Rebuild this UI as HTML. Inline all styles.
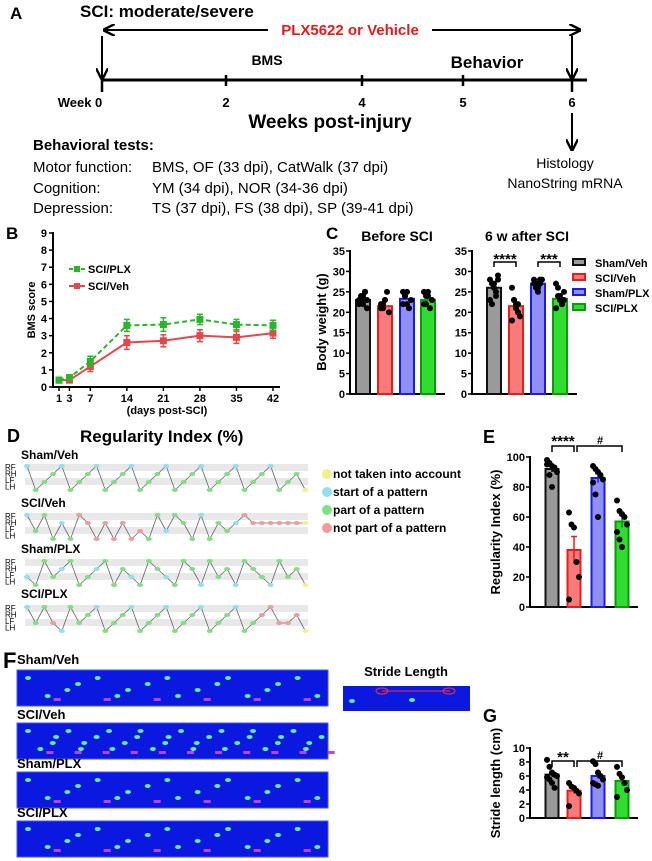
<!DOCTYPE html>
<html><head><meta charset="utf-8"><style>
html,body{margin:0;padding:0;background:#fff}
svg{display:block;font-family:"Liberation Sans",Arial,sans-serif}
</style></head><body>
<svg id="fig" width="652" height="861" viewBox="0 0 652 861" xmlns="http://www.w3.org/2000/svg">
<defs>
<marker id="ah" viewBox="0 0 10 10" refX="9" refY="5" markerWidth="6" markerHeight="6" orient="auto-start-reverse"><path d="M0,0 L10,5 L0,10" fill="none" stroke="#000" stroke-width="2"/></marker>
</defs>
<!-- Panel A -->
<g>
<text x="10" y="19" font-size="17" font-weight="bold">A</text>
<text x="80" y="17" font-size="17" font-weight="bold">SCI: moderate/severe</text>
<line x1="104" y1="30" x2="580" y2="30" stroke="#000" stroke-width="2" marker-start="url(#ah)" marker-end="url(#ah)"/>
<rect x="268" y="21" width="164" height="17" fill="#fff"/>
<text x="350" y="35" font-size="15" font-weight="bold" fill="#e41a1c" text-anchor="middle">PLX5622 or Vehicle</text>
<line x1="102" y1="36" x2="102" y2="79" stroke="#000" stroke-width="2" marker-end="url(#ah)"/>
<line x1="572" y1="36" x2="572" y2="79" stroke="#000" stroke-width="2" marker-end="url(#ah)"/>
<text x="267" y="65" font-size="14" font-weight="bold" text-anchor="middle">BMS</text>
<text x="487" y="68" font-size="17" font-weight="bold" text-anchor="middle">Behavior</text>
<line x1="102" y1="80" x2="587" y2="80" stroke="#000" stroke-width="3"/>
<g stroke="#000" stroke-width="2.5">
<line x1="102" y1="80" x2="102" y2="92"/><line x1="226" y1="75" x2="226" y2="86"/><line x1="362" y1="75" x2="362" y2="86"/><line x1="463" y1="75" x2="463" y2="86"/><line x1="572" y1="80" x2="572" y2="92"/>
</g>
<g font-size="13" font-weight="bold" text-anchor="middle">
<text x="80" y="107">Week 0</text>
<text x="226" y="107">2</text><text x="362" y="107">4</text><text x="463" y="107">5</text><text x="572" y="107">6</text>
</g>
<text x="330" y="128" font-size="19" font-weight="bold" text-anchor="middle">Weeks post-injury</text>
<line x1="572" y1="113" x2="572" y2="150" stroke="#000" stroke-width="2" marker-end="url(#ah)"/>
<text x="565" y="168" font-size="14" text-anchor="middle">Histology</text>
<text x="565" y="188" font-size="14" text-anchor="middle">NanoString mRNA</text>
<text x="33" y="150" font-size="15" font-weight="bold">Behavioral tests:</text>
<g font-size="15">
<text x="33" y="172">Motor function:</text><text x="152" y="172">BMS, OF (33 dpi), CatWalk (37 dpi)</text>
<text x="33" y="193">Cognition:</text><text x="152" y="193">YM (34 dpi), NOR (34-36 dpi)</text>
<text x="33" y="213">Depression:</text><text x="152" y="213">TS (37 dpi), FS (38 dpi), SP (39-41 dpi)</text>
</g>
</g>
<g id="gB"></g>
<g id="gC"></g>
<g id="gD"></g>
<g id="gE"></g>
<g id="gF"></g>
<g id="gG"></g>
</svg>
<script>
// Panel B data
const bmsDays=[1,3,7,14,21,28,35,42];
const bmsPLX=[0.4,0.55,1.5,3.6,3.65,3.95,3.65,3.6];
const bmsPLXErr=[0.15,0.15,0.3,0.35,0.4,0.3,0.3,0.3];
const bmsVeh=[0.4,0.4,1.2,2.6,2.7,3.0,2.9,3.15];
const bmsVehErr=[0.1,0.1,0.3,0.4,0.35,0.35,0.35,0.3];
const bmsYTicks=[0,1,2,3,4,5,6,7,8,9];
const bmsXTicks=[1,3,7,14,21,28,35,42];
// Panel C data
const groups=["Sham/Veh","SCI/Veh","Sham/PLX","SCI/PLX"];
const weightBefore=[23,21.5,23.3,23];
const weightAfter=[26,21.5,27,23.3];
const weightBeforePts=[[22,23,24,25,21,23,24,22,25,23],[21,22,23,25,20,22,21,23],[22,24,25,21,23,25,24,22],[22,24,25,21,23,25,22,24]];
const weightAfterPts=[[28,27,26,25,28,23,22,27,24,29],[26,23,22,20,19,18,23,21,22],[28,27,26,27,28,27,26,25,28],[27,24,23,22,25,21,26,24,22,23]];
const weightTicks=[0,5,10,15,20,25,30,35];
// Panel E data
const riMeans=[92,38,86,57];
const riErr=[2,9,3,4];
const riPts=[[98,96,94,92,90,95,88,80,93],[63,55,53,30,20,5],[94,92,90,88,85,83,75,60],[71,64,62,60,55,50,45,40]];
const riTicks=[0,20,40,60,80,100];
// Panel G data
const slMeans=[6.2,3.9,6.0,5.3];
const slErr=[0.3,0.45,0.35,0.5];
const slPts=[[8.3,7.3,6.5,6.2,6.0,5.8,5.5,5.0,4.3],[5.0,4.5,4.3,3.9,3.5,1.7],[8.1,7.7,6.5,6.0,5.5,5.0,4.8,4.6],[7.3,6.3,5.8,5.0,4.0,3.0]];
const slTicks=[0,2,4,6,8,10];

const NS="http://www.w3.org/2000/svg";
function mk(parent,tag,attrs,text){const e=document.createElementNS(NS,tag);for(const k in attrs)e.setAttribute(k,attrs[k]);if(text!==undefined)e.textContent=text;parent.appendChild(e);return e;}
const fillC=["#9a9a9a","#f77b7b","#8f8ff5","#2fdc2f"];
const edgeC=["#111","#e51d1d","#1a1aee","#0a9a0a"];

// ---- Panel B ----
(function(){
const g=document.getElementById('gB');
const x=d=>59+(d-1)*(273-59)/41, y=v=>387-v*(387-233)/9;
mk(g,'text',{x:6,y:239,'font-size':17,'font-weight':'bold'},'B');
mk(g,'line',{x1:53,y1:232,x2:53,y2:388,stroke:'#000','stroke-width':2});
mk(g,'line',{x1:52,y1:387,x2:280,y2:387,stroke:'#000','stroke-width':2});
bmsYTicks.forEach(t=>{mk(g,'line',{x1:49,y1:y(t),x2:53,y2:y(t),stroke:'#000','stroke-width':1.5});mk(g,'text',{x:47,y:y(t)+4,'font-size':11,'font-weight':'bold','text-anchor':'end'},t);});
bmsXTicks.forEach(t=>{mk(g,'line',{x1:x(t),y1:387,x2:x(t),y2:391,stroke:'#000','stroke-width':1.5});mk(g,'text',{x:x(t),y:402,'font-size':11,'font-weight':'bold','text-anchor':'middle'},t);});
mk(g,'text',{x:167,y:414,'font-size':11,'font-weight':'bold','text-anchor':'middle'},'(days post-SCI)');
mk(g,'text',{x:0,y:0,'font-size':11,'font-weight':'bold','text-anchor':'middle',transform:'translate(35,310) rotate(-90)'},'BMS score');
function series(vals,errs,col,dash,name){
 const s=mk(g,'g',{});
 
 
 mk(s,'polyline',{points:bmsDays.map((d,i)=>x(d)+','+y(vals[i])).join(' '),fill:'none',stroke:col,'stroke-width':2,'stroke-dasharray':dash});
 bmsDays.forEach((d,i)=>{mk(s,'line',{x1:x(d),y1:y(vals[i]-errs[i]),x2:x(d),y2:y(vals[i]+errs[i]),stroke:col,'stroke-width':1.5});
 [vals[i]-errs[i],vals[i]+errs[i]].forEach(v=>mk(s,'line',{x1:x(d)-3,y1:y(v),x2:x(d)+3,y2:y(v),stroke:col,'stroke-width':1.5}));
 const p=mk(s,'rect',{x:x(d)-3.5,y:y(vals[i])-3.5,width:7,height:7,fill:col});
 
 });
}
series(bmsVeh,bmsVehErr,'#e8474a','none','sci-veh-series');
series(bmsPLX,bmsPLXErr,'#2ab52a','5,3','sci-plx-series');
const l1=mk(g,'g',{});
mk(l1,'line',{x1:69,y1:269,x2:85,y2:269,stroke:'#2ab52a','stroke-width':2,'stroke-dasharray':'4,2'});mk(l1,'rect',{x:74,y:266,width:6,height:6,fill:'#2ab52a'});
mk(l1,'text',{x:88,y:273,'font-size':11,'font-weight':'bold'},'SCI/PLX');
const l2=mk(g,'g',{});
mk(l2,'line',{x1:69,y1:286,x2:85,y2:286,stroke:'#e8474a','stroke-width':2});mk(l2,'rect',{x:74,y:283,width:6,height:6,fill:'#e8474a'});
mk(l2,'text',{x:88,y:290,'font-size':11,'font-weight':'bold'},'SCI/Veh');
})();

function barPanel(g,opt){
 const y=v=>opt.y0-v*(opt.y0-opt.yTop)/opt.max;
 mk(g,'line',{x1:opt.ax,y1:opt.yTop-1,x2:opt.ax,y2:opt.y0+1,stroke:'#000','stroke-width':2});
 mk(g,'line',{x1:opt.ax-1,y1:opt.y0,x2:opt.axEnd,y2:opt.y0,stroke:'#000','stroke-width':2});
 opt.ticks.forEach(t=>{mk(g,'line',{x1:opt.ax-4,y1:y(t),x2:opt.ax,y2:y(t),stroke:'#000','stroke-width':1.5});mk(g,'text',{x:opt.ax-5,y:y(t)+4,'font-size':opt.fs,'font-weight':'bold','text-anchor':'end'},t);});
 opt.means.forEach((m,i)=>{
  const cx=opt.cx[i];
  const b=mk(g,'rect',{x:cx-opt.bw/2,y:y(m),width:opt.bw,height:opt.y0-y(m),fill:fillC[i],stroke:edgeC[i],'stroke-width':2});
  
  
  if(opt.err){const e=opt.err[i];mk(g,'line',{x1:cx,y1:y(m-e),x2:cx,y2:y(m+e),stroke:edgeC[i],'stroke-width':1.5});mk(g,'line',{x1:cx-3,y1:y(m+e),x2:cx+3,y2:y(m+e),stroke:edgeC[i],'stroke-width':1.5});}
  opt.pts[i].forEach((v,j)=>{const dx=((j%5)-2)*opt.jit;const c=mk(g,'circle',{cx:cx+dx,cy:y(v),r:opt.r,fill:'#000'});
   
   });
 });
 return y;
}
// ---- Panel C ----
(function(){
const g=document.getElementById('gC');
mk(g,'text',{x:326,y:239,'font-size':17,'font-weight':'bold'},'C');
mk(g,'text',{x:397,y:241,'font-size':14,'font-weight':'bold','text-anchor':'middle'},'Before SCI');
mk(g,'text',{x:527,y:241,'font-size':14,'font-weight':'bold','text-anchor':'middle'},'6 w after SCI');
mk(g,'text',{x:0,y:0,'font-size':13,'font-weight':'bold','text-anchor':'middle',transform:'translate(326,322) rotate(-90)'},'Body weight (g)');
barPanel(g,{ax:350,axEnd:445,y0:394,yTop:251,max:35,ticks:weightTicks,fs:11,means:weightBefore,pts:weightBeforePts,cx:[363,385,407,428],bw:14,r:3,jit:2});
barPanel(g,{ax:472,axEnd:577,y0:394,yTop:251,max:35,ticks:weightTicks,fs:11,means:weightAfter,pts:weightAfterPts,cx:[494,516,538,560],bw:14,r:3,jit:2});
mk(g,'path',{d:'M494,267 V262 H516 V267 M538,267 V262 H560 V267',fill:'none',stroke:'#000','stroke-width':1.5});
mk(g,'text',{x:505,y:264,'font-size':15,'font-weight':'bold','text-anchor':'middle'},'****');
mk(g,'text',{x:549,y:264,'font-size':15,'font-weight':'bold','text-anchor':'middle'},'***');
groups.forEach((n,i)=>{const lg=mk(g,'g',{});
 mk(lg,'rect',{x:573,y:259+i*15,width:12,height:6,fill:fillC[i],stroke:edgeC[i],'stroke-width':2});
 mk(lg,'text',{x:595,y:267+i*15,'font-size':11,'font-weight':'bold'},n);});
})();
// ---- Panel D ----
(function(){
const g=document.getElementById('gD');
mk(g,'text',{x:7,y:442,'font-size':18,'font-weight':'bold'},'D');
mk(g,'text',{x:80,y:442,'font-size':17,'font-weight':'bold'},'Regularity Index (%)');
const rows=[{l:'Sham/Veh',ly:459,t:464},{l:'SCI/Veh',ly:507,t:513},{l:'Sham/PLX',ly:553,t:559},{l:'SCI/PLX',ly:598,t:605}];
const pat=[[0,3,2,1,0,3,2,1,0,3,2,1,0,3,2,1,0,3,2,1,0,3,2,1,0,3,2,1,0,3,2,1,3],[0,2,0,3,1,3,0,1,3,1,3,1,3,2,3,0,2,0,1,3,0,3,1,2,1,0,1,1,1,1,1,1,1],[2,3,0,2,1,0,3,2,1,0,3,1,2,3,0,1,2,3,0,1,3,0,2,1,3,0,1,2,3,0,2,1,3],[0,2,0,2,3,0,2,1,0,3,2,1,0,3,2,1,0,3,2,1,0,3,2,1,0,3,2,1,0,2,2,1,3]];
const cols=['#7fe07f','#8fe0f0','#f39a9a','#f3f08a'];
rows.forEach((r,k)=>{
 mk(g,'text',{x:21,y:r.ly,'font-size':12,'font-weight':'bold'},r.l);
 mk(g,'rect',{x:25,y:r.t,width:283,height:7,fill:'#e8e8e8'});mk(g,'rect',{x:25,y:r.t+14,width:283,height:7,fill:'#e8e8e8'});
 ['RF','RH','LF','LH'].forEach((s,i)=>mk(g,'text',{x:5,y:r.t+6+i*6.5,'font-size':8},s));
 const p=pat[k];const pts=p.map((v,i)=>[27+i*8.7,r.t+2+v*8]);
 mk(g,'polyline',{points:pts.map(q=>q.join(',')).join(' '),fill:'none',stroke:'#666','stroke-width':0.8});
 pts.forEach((q,i)=>{let c=cols[0];if(i%4===0)c=cols[1];if(k===1&&(i>5&&i<14||i>24))c=cols[2];if(k===3&&(i===3||i>26))c=cols[2];if(i===pts.length-1)c=cols[3];
  mk(g,'ellipse',{cx:q[0],cy:q[1],rx:3,ry:2,fill:c});});
});
const lt=['not taken into account','start of a pattern','part of a pattern','not part of a pattern'];
const lc=['#f3f08a','#8fe0f0','#7fe07f','#f39a9a'];
lt.forEach((t,i)=>{const e=mk(g,'g',{});
 mk(e,'circle',{cx:327,cy:474+i*18,r:5,fill:lc[i]});mk(e,'text',{x:333,y:478+i*18,'font-size':12,'font-weight':'bold'},t);});
})();
// ---- Panel E ----
(function(){
const g=document.getElementById('gE');
mk(g,'text',{x:483,y:443,'font-size':18,'font-weight':'bold'},'E');
mk(g,'text',{x:0,y:0,'font-size':13,'font-weight':'bold','text-anchor':'middle',transform:'translate(500,532) rotate(-90)'},'Regularity Index (%)');
barPanel(g,{ax:530,axEnd:638,y0:607,yTop:457,max:100,ticks:riTicks,fs:11,means:riMeans,err:riErr,pts:riPts,cx:[552,574,598,622],bw:13,r:3,jit:2.5});
mk(g,'path',{d:'M552,452 V446 H574 V452 M577,452 V446 H622 V452',fill:'none',stroke:'#000','stroke-width':1.5});
mk(g,'text',{x:563,y:446,'font-size':15,'font-weight':'bold','text-anchor':'middle'},'****');
mk(g,'text',{x:600,y:444,'font-size':11,'font-weight':'bold','text-anchor':'middle'},'#');
})();
// ---- Panel F ----
(function(){
const g=document.getElementById('gF');
mk(g,'text',{x:3,y:668,'font-size':22,'font-weight':'bold'},'F');
const rs=[['Sham/Veh',665,670],['SCI/Veh',720,723],['Sham/PLX',769,772],['SCI/PLX',818,821]];
rs.forEach((r,k)=>{
 const b=mk(g,'rect',{x:17,y:r[2],width:311,height:36,fill:'#0b18e0',stroke:'#4455ff'});
 
 
 mk(g,'text',{x:17,y:r[1]-1,'font-size':13,'font-weight':'bold'},r[0]);
 const n=k===1?32:18;
 for(let i=0;i<n;i++){const fx=28+i*(300/n)+(i%3)*3;const fy=r[2]+8+((i*7)%4)*6;
  mk(g,'ellipse',{cx:fx,cy:fy,rx:3,ry:2,fill:'#5ef0a0'});
  if(i%3===1)mk(g,'rect',{x:fx+6,y:r[2]+28,width:7,height:3,fill:'#c040e0'});}
});
mk(g,'text',{x:406,y:676,'font-size':13,'font-weight':'bold','text-anchor':'middle'},'Stride Length');
const sb=mk(g,'rect',{x:343,y:686,width:127,height:25,fill:'#0b18e0'});


mk(g,'line',{x1:382,y1:691,x2:450,y2:691,stroke:'#ff3030','stroke-width':1});
mk(g,'ellipse',{cx:382,cy:691,rx:6,ry:3,fill:'none',stroke:'#ff3030'});mk(g,'ellipse',{cx:449,cy:691,rx:6,ry:3,fill:'none',stroke:'#ff3030'});
mk(g,'ellipse',{cx:352,cy:701,rx:3,ry:2,fill:'#5ef0a0'});mk(g,'ellipse',{cx:412,cy:700,rx:3,ry:2,fill:'#5ef0a0'});
})();
// ---- Panel G ----
(function(){
const g=document.getElementById('gG');
mk(g,'text',{x:483,y:722,'font-size':18,'font-weight':'bold'},'G');
mk(g,'text',{x:0,y:0,'font-size':13,'font-weight':'bold','text-anchor':'middle',transform:'translate(500,783) rotate(-90)'},'Stride length (cm)');
barPanel(g,{ax:530,axEnd:638,y0:818,yTop:748,max:10,ticks:slTicks,fs:11,means:slMeans,err:slErr,pts:slPts,cx:[552,574,598,622],bw:13,r:3,jit:2.5});
mk(g,'path',{d:'M552,767 V761 H574 V767 M577,767 V761 H622 V767',fill:'none',stroke:'#000','stroke-width':1.5});
mk(g,'text',{x:563,y:762,'font-size':15,'font-weight':'bold','text-anchor':'middle'},'**');
mk(g,'text',{x:600,y:759,'font-size':11,'font-weight':'bold','text-anchor':'middle'},'#');
})();
</script>
</body></html>
